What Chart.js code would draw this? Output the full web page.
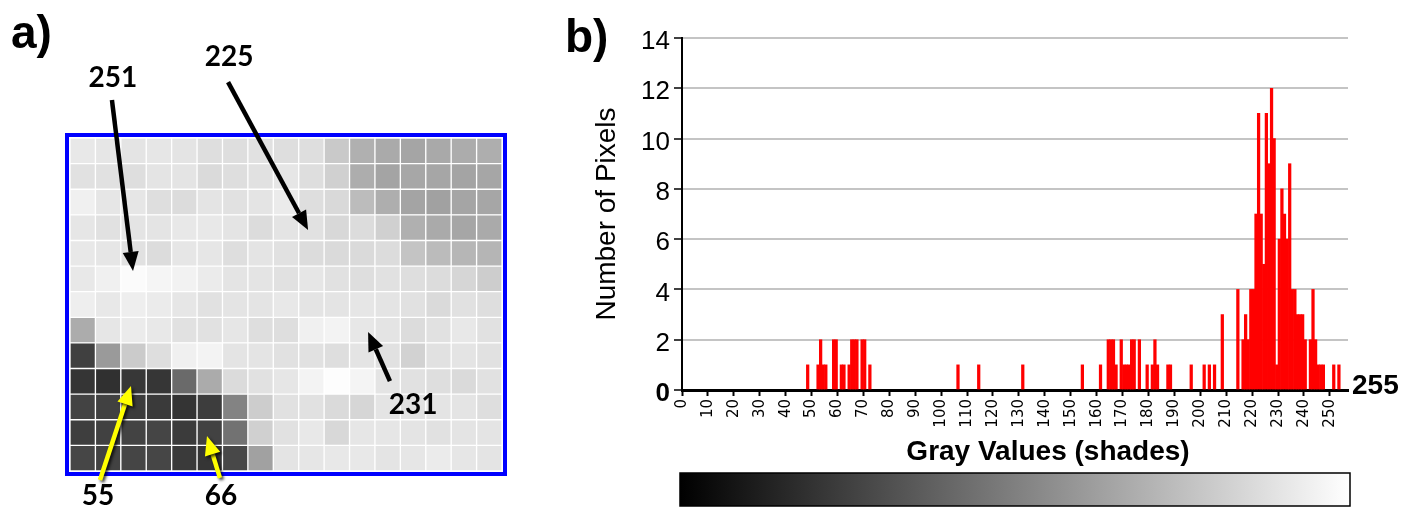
<!DOCTYPE html>
<html>
<head>
<meta charset="utf-8">
<title>Gray values: pixel grid and histogram</title>
<script src="https://cdn.jsdelivr.net/npm/chart.js@4.4.1/dist/chart.umd.min.js"></script>
<style>
  body { margin: 0; background: #fff; }
  #figure { position: relative; width: 1417px; height: 523px; overflow: hidden; }
  #figure canvas { position: absolute; top: 0; }
  .panel { position: absolute; font: bold 46px "Liberation Sans", Arial, sans-serif; line-height: 46px; color: #000; }
</style>
</head>
<body>
<div id="figure">
  <canvas id="gridChart" width="560" height="523" style="left:0"></canvas>
  <canvas id="histChart" width="857" height="523" style="left:560px"></canvas>
  <div class="panel" style="left:11px;top:9px">a)</div>
  <div class="panel" style="left:565px;top:13px">b)</div>
</div>
<script>
// panel a: gray value of each cell, top row first (17 columns x 13 rows)
const grayGrid = [
  [232, 230, 228, 230, 228, 222, 222, 225, 222, 222, 201, 176, 170, 165, 169, 172, 174],
  [225, 225, 222, 228, 228, 218, 222, 225, 230, 222, 208, 173, 164, 167, 166, 164, 166],
  [240, 230, 230, 222, 220, 228, 225, 228, 235, 222, 217, 188, 174, 164, 161, 165, 166],
  [230, 225, 228, 228, 232, 232, 228, 220, 228, 225, 216, 220, 208, 176, 170, 166, 170],
  [232, 230, 225, 220, 230, 230, 222, 228, 225, 220, 218, 218, 220, 196, 187, 182, 181],
  [232, 240, 251, 245, 242, 235, 228, 228, 225, 230, 225, 222, 225, 222, 220, 214, 205],
  [238, 232, 238, 235, 230, 225, 228, 228, 232, 228, 228, 230, 228, 225, 218, 225, 222],
  [172, 230, 235, 232, 225, 225, 230, 222, 222, 240, 243, 231, 228, 220, 225, 232, 225],
  [64, 154, 203, 222, 240, 243, 228, 228, 225, 225, 222, 228, 225, 210, 225, 228, 225],
  [53, 48, 55, 54, 106, 171, 219, 225, 230, 243, 253, 244, 228, 225, 222, 218, 225],
  [67, 65, 59, 58, 52, 61, 131, 205, 225, 225, 218, 214, 228, 225, 228, 228, 222],
  [62, 65, 67, 69, 59, 66, 114, 208, 225, 232, 216, 230, 230, 228, 225, 228, 228],
  [70, 66, 69, 70, 58, 53, 72, 161, 228, 230, 232, 232, 228, 230, 235, 230, 228]
];
const columns = grayGrid[0].map((_, i) => i);

// callouts in grid units (x = column index, y = rows counted from the bottom)
const callouts = [
  { text: '251', label: [1.19, 15.34], from: [1.15, 14.48], to: [1.98, 7.81], color: '#000000' },
  { text: '225', label: [5.76, 16.16], from: [5.72, 15.18], to: [8.87, 9.41], color: '#000000' },
  { text: '231', label: [13.0, 2.58], from: [12.09, 3.51], to: [11.23, 5.43], color: '#000000' },
  { text: '55', label: [0.60, -0.98], from: [0.68, -0.35], to: [1.90, 3.32], color: '#ffff00' },
  { text: '66', label: [5.44, -0.98], from: [5.40, -0.27], to: [4.89, 1.37], color: '#ffff00' }
];

// panel b: histogram, only the gray levels that occur
const grayLevels = [48, 52, 53, 54, 55, 58, 59, 61, 62, 64, 65, 66, 67, 69, 70, 72,
  106, 114, 131, 154, 161, 164, 165, 166, 167, 169, 170, 171, 172, 173, 174, 176,
  179, 181, 182, 183, 187, 188, 196, 201, 203, 205, 208, 214, 216, 217, 218, 219,
  220, 221, 222, 223, 224, 225, 226, 227, 228, 229, 230, 231, 232, 233, 234, 235,
  236, 237, 238, 239, 240, 242, 243, 244, 245, 246, 247, 251, 253];
const pixelCounts = [1, 1, 2, 1, 1, 2, 2, 1, 1, 1, 2, 2, 2, 2, 2, 1,
  1, 1, 1, 1, 1, 2, 2, 2, 1, 2, 1, 1, 1, 2, 2, 2,
  1, 1, 2, 1, 1, 1, 1, 1, 1, 1, 3, 4, 2, 3, 2, 4,
  4, 7, 11, 7, 5, 11, 9, 12, 10, 1, 6, 8, 7, 6, 9, 4,
  4, 3, 3, 3, 2, 2, 4, 2, 1, 1, 1, 1, 1];

const sans = '"Liberation Sans", Arial, sans-serif';
Chart.defaults.color = '#000';
Chart.defaults.font.family = sans;

function drawArrow(ctx, x0, y0, x1, y1, color, shadow) {
  const ang = Math.atan2(y1 - y0, x1 - x0);
  const headLen = 19, headHalf = 8;
  const bx = x1 - headLen * Math.cos(ang), by = y1 - headLen * Math.sin(ang);
  ctx.save();
  if (shadow) {
    ctx.shadowColor = 'rgba(0,0,0,0.75)';
    ctx.shadowBlur = 3;
    ctx.shadowOffsetX = 2;
    ctx.shadowOffsetY = 2;
  }
  ctx.strokeStyle = color;
  ctx.fillStyle = color;
  ctx.lineWidth = 4.5;
  ctx.beginPath();
  ctx.moveTo(x0, y0);
  ctx.lineTo(bx, by);
  ctx.stroke();
  ctx.beginPath();
  ctx.moveTo(x1, y1);
  ctx.lineTo(bx + headHalf * Math.sin(ang), by - headHalf * Math.cos(ang));
  ctx.lineTo(bx - headHalf * Math.sin(ang), by + headHalf * Math.cos(ang));
  ctx.closePath();
  ctx.fill();
  ctx.restore();
}

// blue frame + arrows and numbers on the grid
const gridDecor = {
  id: 'gridDecor',
  afterDraw(chart) {
    const { ctx, chartArea: a, scales: { x, y } } = chart;
    ctx.save();
    ctx.strokeStyle = '#0000ff';
    ctx.lineWidth = 4;
    ctx.strokeRect(a.left - 3, a.top - 3, a.right - a.left + 6, a.bottom - a.top + 6);
    ctx.font = 'bold 28px Lato, "Open Sans", sans-serif';
    ctx.textAlign = 'center';
    ctx.textBaseline = 'middle';
    ctx.fillStyle = '#000';
    callouts.forEach(c => {
      drawArrow(ctx, x.getPixelForValue(c.from[0]), y.getPixelForValue(c.from[1]),
        x.getPixelForValue(c.to[0]), y.getPixelForValue(c.to[1]), c.color, c.color !== '#000000');
      ctx.fillText(c.text, x.getPixelForValue(c.label[0]), y.getPixelForValue(c.label[1]));
    });
    ctx.restore();
  }
};

new Chart(document.getElementById('gridChart'), {
  type: 'bar',
  data: {
    labels: columns,
    // one stacked dataset per row, bottom row first
    datasets: grayGrid.slice().reverse().map(row => ({
      data: row.map(() => 1),
      backgroundColor: row.map(v => `rgb(${v},${v},${v})`),
      borderColor: '#ffffff',
      borderWidth: 1,
      borderSkipped: false,
      barPercentage: 1,
      categoryPercentage: 1
    }))
  },
  options: {
    responsive: false,
    animation: false,
    devicePixelRatio: 1,
    layout: { padding: { left: 70, right: 58, top: 138, bottom: 52 } },
    plugins: { legend: { display: false }, tooltip: { enabled: false } },
    scales: {
      x: { display: false, stacked: true },
      y: { display: false, stacked: true, min: 0, max: grayGrid.length }
    }
  },
  plugins: [gridDecor]
});

// x title (sits right of centre in the original), shade bar and the 255 end label
const shadeBar = {
  id: 'shadeBar',
  afterDraw(chart) {
    const { ctx, chartArea: a } = chart;
    const x0 = a.left - 2, x1 = a.right + 2;
    ctx.save();
    ctx.fillStyle = '#000';
    ctx.font = 'bold 28px ' + sans;
    ctx.textAlign = 'center';
    ctx.textBaseline = 'middle';
    ctx.fillText('Gray Values (shades)', (a.left + a.right) / 2 + 33, 452);
    const g = ctx.createLinearGradient(x0, 0, x1, 0);
    g.addColorStop(0, '#000000');
    g.addColorStop(1, '#ffffff');
    ctx.fillStyle = g;
    ctx.fillRect(x0, 473, x1 - x0, 33);
    ctx.strokeStyle = '#000';
    ctx.lineWidth = 1.5;
    ctx.strokeRect(x0, 473, x1 - x0, 33);
    ctx.fillStyle = '#000';
    ctx.textAlign = 'left';
    ctx.fillText('255', a.right + 4, a.bottom - 4);
    ctx.restore();
  }
};

new Chart(document.getElementById('histChart'), {
  type: 'bar',
  data: {
    datasets: [{
      // bar for level g covers [g, g+1)
      data: grayLevels.map((g, i) => ({ x: g + 0.5, y: pixelCounts[i] })),
      backgroundColor: '#ff0000',
      borderWidth: 0,
      barPercentage: 1,
      categoryPercentage: 1
    }]
  },
  options: {
    responsive: false,
    animation: false,
    devicePixelRatio: 1,
    layout: { padding: { left: 0, right: 69, top: 38, bottom: 53 } },
    plugins: { legend: { display: false }, tooltip: { enabled: false } },
    scales: {
      x: {
        type: 'linear',
        min: 0,
        max: 257,
        offset: false,
        ticks: {
          stepSize: 10,
          includeBounds: false,
          autoSkip: false,
          maxRotation: 90,
          minRotation: 90,
          padding: 3,
          font: { family: '"DejaVu Sans", sans-serif', size: 15 }
        },
        grid: { offset: false, drawOnChartArea: false, drawTicks: true, tickLength: 6, tickColor: '#000', tickWidth: 2 },
        border: { color: '#000', width: 3 },
        afterFit: s => { s.height = 80; }
      },
      y: {
        min: 0,
        max: 14,
        ticks: {
          stepSize: 2,
          padding: 4,
          labelOffset: 4,
          font: ctx => (ctx.tick && ctx.tick.value === 0)
            ? { size: 26, weight: 'bold' }
            : { size: 26 }
        },
        grid: { color: '#c4c4c4', lineWidth: 2, tickColor: '#000', tickLength: 8, tickWidth: 1.5 },
        border: { color: '#000', width: 2 },
        title: {
          display: true,
          text: 'Number of Pixels',
          font: { size: 28 },
          padding: { top: 30, bottom: 0 }
        },
        afterFit: s => { s.width = 122; }
      }
    }
  },
  plugins: [shadeBar]
});
</script>
</body>
</html>
